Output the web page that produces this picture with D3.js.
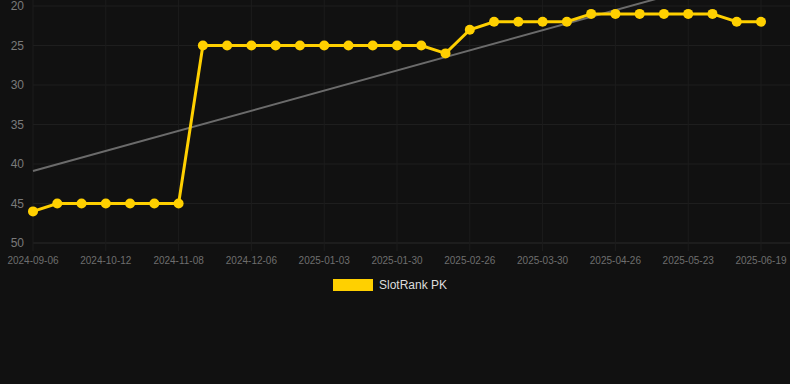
<!DOCTYPE html>
<html>
<head>
<meta charset="utf-8">
<script src="https://cdn.jsdelivr.net/npm/d3@7/dist/d3.min.js"></script>
<style>
html,body{margin:0;padding:0;background:#111111;}
svg{display:block;}
text{font-family:"Liberation Sans",Arial,Helvetica,sans-serif;}
</style>
</head>
<body>
<svg id="chart" width="790" height="384"></svg>
<script>
const dates = ["2024-09-06","2024-09-18","2024-09-30","2024-10-12","2024-10-21","2024-10-30","2024-11-08","2024-11-17","2024-11-27","2024-12-06","2024-12-15","2024-12-24","2025-01-03","2025-01-12","2025-01-21","2025-01-30","2025-02-08","2025-02-17","2025-02-26","2025-03-08","2025-03-19","2025-03-30","2025-04-08","2025-04-17","2025-04-26","2025-05-05","2025-05-14","2025-05-23","2025-06-01","2025-06-10","2025-06-19"];
const ranks = [46,45,45,45,45,45,45,25,25,25,25,25,25,25,25,25,25,26,23,22,22,22,22,21,21,21,21,21,21,22,22];
const yTicks = [20,25,30,35,40,45,50];
const seriesName = "SlotRank PK";

const W = 790, H = 384;
const svg = d3.select("#chart");
const x = d3.scalePoint().domain(dates).range([33, 761]);
const y = d3.scaleLinear().domain([20, 50]).range([6, 243]);

const g = svg.append("g");

// horizontal grid
g.selectAll("line.hg").data(yTicks).enter().append("line")
  .attr("x1", 33).attr("x2", W)
  .attr("y1", d => y(d)).attr("y2", d => y(d))
  .attr("stroke", d => d === 50 ? "#2a2a2a" : "#1e1e1e").attr("stroke-width", 1);

// vertical grid at labelled ticks
const xLabelDates = dates.filter((d, i) => i % 3 === 0);
g.selectAll("line.vg").data(xLabelDates).enter().append("line")
  .attr("x1", d => x(d)).attr("x2", d => x(d))
  .attr("y1", 0).attr("y2", 251)
  .attr("stroke", "#1c1c1c").attr("stroke-width", 1);

// y labels
g.selectAll("text.yl").data(yTicks).enter().append("text")
  .attr("x", 24).attr("y", d => y(d)).attr("dy", "0.35em")
  .attr("text-anchor", "end").attr("fill", "#7a7a7a").attr("font-size", 12)
  .text(d => d);

// x labels
g.selectAll("text.xl").data(xLabelDates).enter().append("text")
  .attr("x", d => x(d)).attr("y", 260).attr("dy", "0.35em")
  .attr("text-anchor", "middle").attr("fill", "#6e6e6e").attr("font-size", 10)
  .text(d => d);

// trend line (least squares)
const n = ranks.length;
const xm = d3.mean(ranks, (d, i) => i);
const ym = d3.mean(ranks);
let sxy = 0, sxx = 0;
ranks.forEach((v, i) => { sxy += (i - xm) * (v - ym); sxx += (i - xm) * (i - xm); });
const slope = sxy / sxx, icpt = ym - slope * xm;
const yFree = d3.scaleLinear().domain([20, 50]).range([6, 243]);
svg.append("line")
  .attr("x1", x(dates[0])).attr("y1", yFree(icpt))
  .attr("x2", x(dates[n - 1])).attr("y2", yFree(icpt + slope * (n - 1)))
  .attr("stroke", "#6b6b6b").attr("stroke-width", 2);

// series line
const line = d3.line().x((d, i) => x(dates[i])).y(d => y(d));
svg.append("path").datum(ranks)
  .attr("d", line).attr("fill", "none")
  .attr("stroke", "#FFD000").attr("stroke-width", 3);

svg.selectAll("circle.pt").data(ranks).enter().append("circle")
  .attr("cx", (d, i) => x(dates[i])).attr("cy", d => y(d))
  .attr("r", 5).attr("fill", "#FFD000");

// legend
svg.append("rect").attr("x", 333).attr("y", 279).attr("width", 40).attr("height", 12).attr("fill", "#FFD000");
svg.append("text").attr("x", 379).attr("y", 285).attr("dy", "0.35em")
  .attr("fill", "#dddddd").attr("font-size", 12).text(seriesName);
</script>
</body>
</html>
